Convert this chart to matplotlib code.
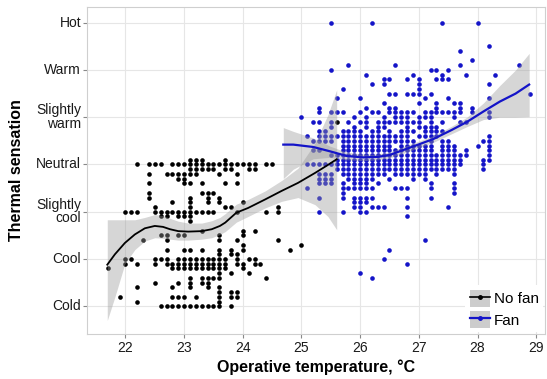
import numpy as np
import matplotlib
matplotlib.use("Agg")
import matplotlib.pyplot as plt
from matplotlib.patches import Patch
from matplotlib.lines import Line2D

plt.rcParams["font.family"] = ["Liberation Sans", "DejaVu Sans"]

# sensation scale
sens_values = [-3, -2, -1, 0, 1, 2, 3]
sens_labels = ["Cold", "Cool", "Slightly\ncool", "Neutral", "Slightly\nwarm", "Warm", "Hot"]
temp_ticks = [22, 23, 24, 25, 26, 27, 28, 29]

# No fan votes, grouped by sensation value: (vote, [operative temps])
nofan_rows = [
    (0.1, [23.1, 23.2, 23.3, 23.7]),
    (0.0, [22.2, 22.4, 22.5, 22.6, 22.8, 22.9, 23.0, 23.1, 23.2, 23.3, 23.4, 23.5,
           23.6, 23.7, 23.8, 23.9, 24.0, 24.1, 24.2, 24.4, 24.5]),
    (-0.1, [23.1, 23.2, 23.3, 23.4, 23.5, 23.7, 23.8, 24.1, 24.2]),
    (-0.2, [22.4, 22.7, 22.8, 22.9, 23.0, 23.1, 23.2, 23.6, 23.9]),
    (-0.3, [22.9, 23.0]),
    (-0.4, [22.4, 23.0, 23.1, 23.3, 23.7, 23.9]),
    (-0.6, [22.4, 23.3, 23.4, 23.5]),
    (-0.7, [22.4, 23.1, 23.4, 23.6]),
    (-0.8, [22.8, 23.1, 23.4, 23.6, 24.0]),
    (-0.9, [22.5, 23.1, 23.7, 23.8, 24.6]),
    (-1.0, [22.0, 22.1, 22.2, 22.5, 22.6, 22.7, 22.8, 22.9, 23.0, 23.1, 23.2, 23.3,
            23.4, 23.5, 23.9, 24.4, 24.6]),
    (-1.1, [22.6, 22.7, 22.9, 23.0, 23.1]),
    (-1.2, [23.1]),
    (-1.4, [23.3, 24.0, 24.2]),
    (-1.5, [22.6, 22.7, 22.9, 23.0, 23.6, 24.0]),
    (-1.6, [22.3, 22.7, 23.6, 23.9, 24.6]),
    (-1.7, [24.0, 25.0]),
    (-1.8, [22.7, 23.0, 23.1, 23.3, 23.6, 23.8, 24.0, 24.8]),
    (-1.9, [23.6, 23.8, 23.9]),
    (-2.0, [22.0, 22.1, 22.5, 22.6, 22.7, 22.9, 23.0, 23.1, 23.2, 23.3, 23.4, 23.5,
            23.6, 23.7, 23.9, 24.1, 24.2]),
    (-2.1, [22.0, 22.2, 22.5, 22.7, 22.8, 22.9, 23.0, 23.1, 23.2, 23.3, 23.4, 23.5,
            23.6, 23.7, 23.9, 24.0, 24.2, 24.3]),
    (-2.2, [21.7, 22.8, 22.9, 23.0, 23.1, 23.2, 23.3, 23.4, 23.5, 23.6, 23.7, 24.0]),
    (-2.3, [23.6, 23.8, 24.1]),
    (-2.4, [23.1, 23.3, 23.4, 23.5, 23.6, 24.4]),
    (-2.5, [22.5, 22.9, 23.1, 23.3, 23.4]),
    (-2.6, [22.2, 22.8, 23.1, 23.4, 23.6]),
    (-2.7, [23.6, 23.8, 23.9]),
    (-2.8, [21.9, 22.8, 22.9, 23.0, 23.2, 23.6, 23.8, 23.9]),
    (-2.9, [22.2, 23.6]),
    (-3.0, [22.6, 22.7, 22.8, 22.9, 23.0, 23.1, 23.2, 23.3, 23.4, 23.5, 23.6, 23.8]),
    (0.9, [25.6]),
]

# Fan votes
fan_rows = [
    (3.0, [25.5, 26.2, 27.4, 28.0]),
    (2.5, [28.2]),
    (2.4, [27.7]),
    (2.2, [27.9]),
    (2.1, [25.8, 26.6, 27.7, 28.7]),
    (2.0, [25.5, 27.2, 27.3, 27.5]),
    (1.9, [26.1, 26.9, 27.4, 27.8, 28.3]),
    (1.8, [26.4, 26.5, 26.8, 27.0, 27.3, 27.4, 27.5]),
    (1.7, [26.2, 26.4, 27.0, 28.2]),
    (1.6, [25.7, 27.0]),
    (1.5, [26.5, 26.6, 26.8, 26.9, 27.0, 27.2, 28.9]),
    (1.4, [25.6, 26.0, 27.1, 27.5, 28.2]),
    (1.3, [26.4, 27.0, 27.3, 27.6, 27.7]),
    (1.2, [25.3, 26.1, 26.5, 26.6, 27.3, 27.7, 27.9]),
    (1.1, [25.3, 25.5, 25.6, 25.7, 26.0, 26.2, 26.3, 26.5, 26.6, 26.7, 26.8, 26.9,
           27.1, 27.2, 27.3, 27.4, 27.5, 27.6, 27.7, 27.9, 28.2]),
    (1.0, [25.0, 25.9, 26.1, 26.4, 26.6, 26.7, 26.8, 27.0, 27.1, 27.2, 27.6, 28.2]),
    (0.9, [25.2, 25.3, 25.5, 25.8, 26.0, 26.1, 26.3, 26.4, 26.5, 26.6, 26.7, 26.8,
           26.9, 27.0, 27.2, 27.4, 27.7, 27.8]),
    (0.8, [25.5, 25.9, 26.1, 26.3, 26.4, 26.8, 27.0, 27.1, 27.2, 27.3]),
    (0.7, [25.3, 25.4, 25.7, 25.8, 25.9, 26.0, 26.2, 26.3, 26.5, 26.7, 26.8, 26.9,
           27.1, 27.2, 27.3, 27.4]),
    (0.6, [25.1, 25.3, 25.4, 25.5, 25.6, 25.7, 25.8, 25.9, 26.0, 26.1, 26.2, 26.3,
           26.4, 26.5, 26.6, 26.7, 26.8, 27.0, 27.1, 27.2, 27.3, 28.2]),
    (0.5, [25.2, 25.3, 25.4, 25.5, 25.7, 25.8, 25.9, 26.0, 26.1, 26.2, 26.3, 26.4,
           26.5, 26.6, 26.7, 26.8, 26.9, 27.2, 27.4, 27.5, 28.1, 28.2]),
    (0.4, [25.7, 25.8, 25.9, 26.0, 26.1, 26.2, 26.3, 26.4, 26.5, 26.7, 26.8, 26.9,
           27.0, 27.1, 27.2, 27.4, 27.5, 27.6, 28.0, 28.2]),
    (0.3, [25.2, 25.3, 25.7, 25.8, 25.9, 26.0, 26.1, 26.2, 26.3, 26.4, 26.5, 26.6,
           26.7, 26.8, 26.9, 27.0, 27.1, 27.2, 27.4, 27.5, 27.6, 27.8, 28.2]),
    (0.2, [25.5, 25.6, 25.7, 25.8, 25.9, 26.0, 26.1, 26.2, 26.3, 26.4, 26.5, 26.6,
           26.7, 26.8, 26.9, 27.0, 27.1, 27.2, 27.3, 27.4, 27.5, 27.6, 27.7, 27.8, 28.2]),
    (0.1, [25.6, 25.7, 25.8, 25.9, 26.0, 26.1, 26.2, 26.3, 26.4, 26.5, 26.6, 26.7,
           26.8, 26.9, 27.0, 27.1, 27.2, 27.3, 27.4, 27.5, 27.6, 27.7, 28.1, 28.2]),
    (0.0, [25.1, 25.2, 25.3, 25.4, 25.5, 25.6, 25.7, 25.8, 25.9, 26.0, 26.1, 26.2,
           26.3, 26.4, 26.5, 26.6, 26.7, 26.8, 26.9, 27.0, 27.1, 27.2, 27.3, 27.4,
           27.5, 27.6, 27.7, 28.1]),
    (-0.1, [25.6, 25.7, 25.8, 25.9, 26.0, 26.1, 26.2, 26.3, 26.4, 26.5, 26.6, 26.7,
            26.8, 26.9, 27.0, 27.1, 27.2, 27.3, 27.4, 27.5, 27.6, 28.1]),
    (-0.2, [25.3, 25.4, 25.5, 25.7, 25.8, 25.9, 26.0, 26.1, 26.2, 26.3, 26.4, 26.6,
            26.7, 26.8, 26.9, 27.0, 27.1, 27.3, 27.6]),
    (-0.3, [25.3, 25.4, 25.5, 25.8, 25.9, 26.0, 26.1, 26.2, 26.5, 26.9, 27.1]),
    (-0.4, [25.3, 25.4, 25.5, 25.7, 25.9, 26.0, 26.1, 26.3, 27.2, 27.6]),
    (-0.5, [25.1, 25.7, 25.8, 25.9, 26.0, 26.1, 26.2, 26.6, 26.7, 26.8, 27.2, 27.6]),
    (-0.6, [25.7, 27.6]),
    (-0.7, [25.3, 25.7, 25.9, 26.0, 26.1, 26.2, 26.8, 27.2]),
    (-0.8, [25.9, 26.0, 26.1]),
    (-0.9, [25.9, 26.0, 26.2, 26.3, 26.4, 26.8, 27.5]),
    (-1.0, [25.3, 25.7, 26.0, 26.1]),
    (-1.1, [26.8]),
    (-1.6, [27.1]),
    (-1.8, [26.5]),
    (-2.0, [26.4]),
    (-2.1, [26.8]),
    (-2.3, [26.0]),
    (-2.4, [26.2]),
]

# smoothed fits: x, fit, lower, upper
nofan_fit_x  = [21.69, 21.82, 21.99, 22.16, 22.33, 22.5, 22.64, 22.76, 22.9, 23.07,
                23.3, 23.47, 23.61, 23.7, 23.89, 24.09, 24.38, 24.66, 24.94, 25.23,
                25.45, 25.6]
nofan_fit_y  = [-2.12, -1.9, -1.66, -1.48, -1.35, -1.3, -1.32, -1.37, -1.41, -1.42,
                -1.41, -1.37, -1.3, -1.23, -1.02, -0.92, -0.74, -0.56, -0.39, -0.18,
                -0.01, 0.11]
nofan_band_lo = [-3.3, -2.8, -2.1, -1.8, -1.62, -1.55, -1.56, -1.58, -1.6, -1.6,
                 -1.58, -1.55, -1.48, -1.42, -1.22, -1.1, -0.92, -0.78, -0.7, -0.85,
                 -1.1, -1.38]
nofan_band_hi = [-1.17, -1.17, -1.17, -1.17, -1.12, -1.06, -1.08, -1.14, -1.2, -1.24,
                 -1.24, -1.19, -1.12, -1.04, -0.84, -0.74, -0.56, -0.34, -0.08, 0.45,
                 1.05, 1.58]

fan_fit_x   = [24.69, 24.86, 25.2, 25.48, 25.77, 26.05, 26.3, 26.5, 26.7, 26.99,
               27.25, 27.56, 27.82, 28.1, 28.38, 28.65, 28.88]
fan_fit_y   = [0.42, 0.42, 0.37, 0.28, 0.18, 0.15, 0.16, 0.2, 0.29, 0.42,
               0.54, 0.73, 0.9, 1.12, 1.33, 1.5, 1.69]
fan_band_lo = [-0.3, -0.1, 0.12, 0.15, 0.1, 0.08, 0.1, 0.14, 0.22, 0.35,
               0.47, 0.65, 0.8, 0.95, 1.0, 1.0, 1.01]
fan_band_hi = [0.78, 0.7, 0.56, 0.39, 0.26, 0.22, 0.22, 0.26, 0.36, 0.49,
               0.61, 0.81, 1.0, 1.3, 1.67, 2.0, 2.35]


def flatten(rows):
    xs, ys = [], []
    for vote, temps in rows:
        xs.extend(temps)
        ys.extend([vote] * len(temps))
    return np.array(xs), np.array(ys)


nf_x, nf_y = flatten(nofan_rows)
f_x, f_y = flatten(fan_rows)

BLUE = "#1414c8"
BAND = "#999999"

fig = plt.figure(figsize=(5.47, 3.79), dpi=100)
ax = fig.add_axes([0.159, 0.1187, 0.837, 0.863])

ax.scatter(nf_x, nf_y, s=11, color="black", linewidths=0, zorder=2)
ax.scatter(f_x, f_y, s=11, color=BLUE, linewidths=0, zorder=2)

ax.fill_between(nofan_fit_x, nofan_band_lo, nofan_band_hi, color=BAND, alpha=0.4,
                linewidth=0, zorder=3)
ax.fill_between(fan_fit_x, fan_band_lo, fan_band_hi, color=BAND, alpha=0.4,
                linewidth=0, zorder=3)
ax.plot(nofan_fit_x, nofan_fit_y, color="black", lw=1.3, zorder=4)
ax.plot(fan_fit_x, fan_fit_y, color=BLUE, lw=1.6, zorder=4)

ax.set_xlim(21.344, 29.147)
ax.set_ylim(-3.586, 3.332)
ax.set_xticks(temp_ticks)
ax.set_yticks(sens_values)
ax.set_yticklabels([])
# y tick labels drawn as texts so two-line labels stay right aligned
ytrans = ax.get_yaxis_transform()
for v, lbl in zip(sens_values, sens_labels):
    ax.text(-0.013, v, lbl, transform=ytrans, ha="right", va="center",
            multialignment="right", fontsize=10, color="#1a1a1a",
            linespacing=0.95, clip_on=False)
ax.tick_params(axis="both", colors="#888888", length=3, width=0.8,
               labelsize=10, labelcolor="#1a1a1a", pad=2)

ax.grid(True, color="#e6e6e6", lw=0.8, zorder=0)
ax.set_axisbelow(True)
for sp in ax.spines.values():
    sp.set_color("#cfcfcf")
    sp.set_linewidth(0.8)

ax.set_xlabel("Operative temperature, °C", fontsize=11.5, fontweight="bold",
              labelpad=3)
fig.text(0.03, 0.55, "Thermal sensation", rotation=90, fontsize=11.5,
         fontweight="bold", ha="center", va="center")

handles = [
    (Patch(facecolor="#cccccc", edgecolor="none"),
     Line2D([], [], color="black", lw=1.2, marker="o", markersize=2.5)),
    (Patch(facecolor="#cccccc", edgecolor="none"),
     Line2D([], [], color=BLUE, lw=1.6, marker="o", markersize=2.5)),
]
leg = ax.legend(handles, ["No fan", "Fan"], loc="lower right",
                bbox_to_anchor=(1.0, 0.0), frameon=True, fontsize=11,
                handlelength=1.3, handleheight=1.3, handletextpad=0.25,
                labelspacing=0.3, borderpad=0.3, borderaxespad=0.1)
leg.get_frame().set_edgecolor("none")
leg.get_frame().set_facecolor("white")
leg.get_frame().set_alpha(1)
leg.set_zorder(5)

fig.savefig("out.png", dpi=100)
